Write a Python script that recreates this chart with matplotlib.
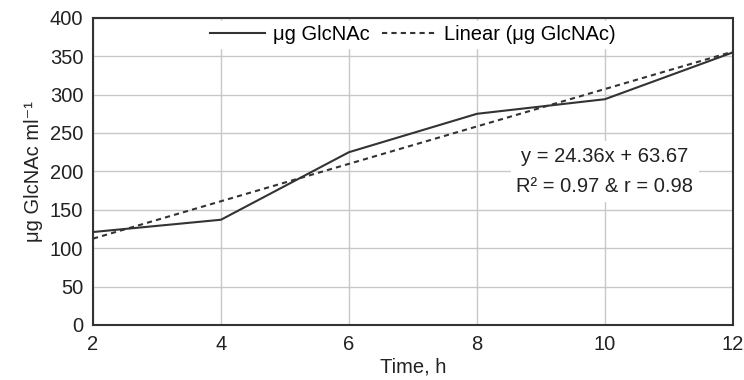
import matplotlib.pyplot as plt
import numpy as np

plt.rcParams['font.family'] = ['Liberation Sans', 'DejaVu Sans']

time_h = [2, 4, 6, 8, 10, 12]
glcnac = [121, 137, 225, 275, 294, 355]
slope = 24.36
intercept = 63.67
y_ticks = [0, 50, 100, 150, 200, 250, 300, 350, 400]
x_ticks = [2, 4, 6, 8, 10, 12]

fig, ax = plt.subplots(figsize=(7.44, 3.8), dpi=100)
fig.subplots_adjust(left=0.125, right=0.985, top=0.953, bottom=0.145)

ax.plot(time_h, glcnac, color='#333333', lw=1.5, label='μg GlcNAc')
xs = np.array([time_h[0], time_h[-1]])
ax.plot(xs, slope * xs + intercept, color='#333333', lw=1.5,
        linestyle=(0, (2.5, 2)), label='Linear (μg GlcNAc)')

ax.set_xlim(2, 12)
ax.set_ylim(0, 400)
ax.set_xticks(x_ticks)
ax.set_yticks(y_ticks)
ax.grid(True, color='#c8c8c8', lw=1)
ax.set_axisbelow(True)
ax.tick_params(length=0, labelsize=14.5, colors='#222222', pad=7)
for s in ax.spines.values():
    s.set_color('#333333')
    s.set_linewidth(1.5)

ax.set_xlabel('Time, h', fontsize=14.5, color='#222222', labelpad=3)
ax.set_ylabel('μg GlcNAc ml⁻¹', fontsize=14.5, color='#222222', labelpad=5)

leg = ax.legend(loc='upper center', ncol=2, frameon=True, fontsize=14.5,
                handlelength=2.7, columnspacing=0.6, handletextpad=0.4,
                borderaxespad=0.15, borderpad=0.2, fancybox=False)
leg.get_frame().set_edgecolor('white')
leg.get_frame().set_facecolor('white')
leg.get_frame().set_alpha(1)

ax.text(10.0, 200, 'y = 24.36x + 63.67\nR² = 0.97 & r = 0.98', ha='center', va='center',
        fontsize=14.5, color='#222222', linespacing=1.75,
        bbox=dict(facecolor='white', edgecolor='none', pad=4))

fig.savefig('out.png')
